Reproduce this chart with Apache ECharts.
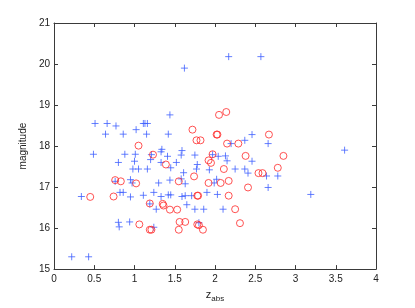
<!DOCTYPE html>
<html>
<head>
<meta charset="utf-8">
<script src="https://cdn.jsdelivr.net/npm/echarts@6/dist/echarts.min.js"></script>
<style>
html,body{margin:0;padding:0;background:#fff;}
#c{width:415px;height:308px;}
</style>
</head>
<body>
<div id="c"></div>
<script>
// Blue "+" series: [z_abs, magnitude]
var plusX = [0.22,0.43,0.34,0.49,0.51,0.66,0.64,0.77,0.86,1.02,1.11,1.13,1.16,1.15,1.44,1.42,1.62,2.17,2.57,2.46,2.37,2.20,2.66,3.61,3.19,0.80,0.88,1.01,1.00,0.98,1.05,1.16,0.76,0.95,0.97,0.82,0.86,0.95,1.11,1.30,1.34,1.33,1.21,1.20,1.33,1.41,1.45,1.44,1.42,1.45,1.33,1.24,1.27,1.19,0.80,0.81,0.94,1.24,1.59,1.58,1.52,1.61,1.58,1.63,1.59,1.63,1.65,1.71,1.75,1.78,1.77,1.75,1.86,1.80,1.97,2.04,2.13,2.15,2.46,1.93,2.25,2.37,2.41,2.02,1.99,2.64,2.78,2.66,1.90,2.03,2.10];
var plusY = [15.30,15.30,16.77,17.80,18.55,18.55,18.29,18.49,18.29,18.40,18.55,18.55,18.55,18.29,18.76,18.29,19.90,20.18,20.18,18.28,18.14,18.06,18.06,17.90,16.82,17.60,17.80,17.80,17.63,17.44,17.44,17.44,17.14,17.18,17.10,16.87,16.87,16.76,16.80,17.10,17.92,17.86,17.79,17.67,17.60,17.75,17.47,17.17,16.81,16.81,16.77,16.87,16.46,16.59,16.14,16.03,16.15,16.02,17.89,17.78,17.60,17.35,17.20,17.08,16.77,16.79,16.57,16.79,17.78,17.55,17.44,16.46,16.46,16.13,17.79,17.75,17.76,17.64,17.63,17.42,17.44,17.44,17.34,17.19,17.10,17.27,17.27,16.99,16.87,16.82,16.46];
// Red "o" series: [z_abs, magnitude]
var circX = [0.45,0.74,0.76,0.83,1.02,1.05,1.23,1.39,1.06,1.19,1.19,1.21,1.35,1.36,1.44,1.53,1.55,1.56,1.55,1.63,1.74,1.78,1.79,1.78,1.80,1.85,1.92,1.95,1.97,1.92,2.07,1.77,1.82,1.72,2.05,2.14,2.02,2.03,2.15,2.29,2.67,2.38,2.85,2.11,2.78,2.54,2.59,2.17,2.41,2.17,2.25,2.31];
var circY = [16.76,16.77,17.17,17.14,17.09,18.01,17.79,17.55,16.09,16.60,15.96,15.96,16.59,16.55,16.45,16.45,17.14,16.15,15.96,16.15,17.26,16.79,16.79,16.09,16.07,15.96,17.65,17.59,17.80,17.10,17.10,18.14,18.14,18.40,18.76,18.83,18.28,18.28,18.06,18.06,18.28,17.76,17.76,17.44,17.47,17.34,17.34,17.15,16.99,16.79,16.46,16.12];
var xTicks = [0,0.5,1,1.5,2,2.5,3,3.5,4];
var yTicks = [15,16,17,18,19,20,21];

function zip(a,b){var r=[];for(var i=0;i<a.length;i++){r.push([a[i],b[i]]);}return r;}

var chart = echarts.init(document.getElementById('c'), null, {renderer:'canvas'});
var axisCol = '#3a3a3a';
var font = 'Liberation Sans, Arial, Helvetica, sans-serif';
var tickCommon = {show:true, inside:true, length:4, lineStyle:{color:axisCol, width:1}};
chart.setOption({
  animation:false,
  backgroundColor:'#fff',
  grid:{left:54,right:39,top:23,bottom:34,containLabel:false},
  xAxis:[{
    type:'value', min:xTicks[0], max:xTicks[xTicks.length-1], interval:0.5, position:'bottom',
    axisLine:{show:true,onZero:false,lineStyle:{color:axisCol,width:1}},
    axisTick:tickCommon, splitLine:{show:false},
    axisLabel:{color:'#222',fontSize:10,fontFamily:font,margin:5,formatter:function(v){return String(v);}},
    name:'{z|z}{s|abs}', nameLocation:'middle', nameGap:14,
    nameTextStyle:{rich:{z:{fontSize:11,fontFamily:font,color:'#222'},s:{fontSize:8,fontFamily:font,color:'#222',padding:[9,0,0,0]}}}
  },{
    type:'value', min:0, max:4, interval:0.5, position:'top',
    axisLine:{show:true,onZero:false,lineStyle:{color:axisCol,width:1}},
    axisTick:tickCommon, axisLabel:{show:false}, splitLine:{show:false}
  }],
  yAxis:[{
    type:'value', min:yTicks[0], max:yTicks[yTicks.length-1], interval:1, position:'left',
    axisLine:{show:true,onZero:false,lineStyle:{color:axisCol,width:1}},
    axisTick:tickCommon, splitLine:{show:false},
    axisLabel:{color:'#222',fontSize:10,fontFamily:font,margin:4},
    name:'magnitude', nameLocation:'middle', nameGap:18,
    nameTextStyle:{fontSize:10,fontFamily:font,color:'#222'}
  },{
    type:'value', min:15, max:21, interval:1, position:'right',
    axisLine:{show:true,onZero:false,lineStyle:{color:axisCol,width:1}},
    axisTick:tickCommon, axisLabel:{show:false}, splitLine:{show:false}
  }],
  series:[{
    type:'scatter', xAxisIndex:0, yAxisIndex:0,
    data:zip(plusX,plusY),
    symbol:'path://M5,0 L5,10 M0,5 L10,5', symbolSize:7,
    itemStyle:{color:'rgba(0,0,0,0)', borderColor:'#4060ff', borderWidth:1},
    emphasis:{disabled:true}
  },{
    type:'scatter', xAxisIndex:0, yAxisIndex:0,
    data:zip(circX,circY),
    symbol:'circle', symbolSize:7,
    itemStyle:{color:'rgba(0,0,0,0)', borderColor:'#ff2828', borderWidth:1},
    emphasis:{disabled:true}
  }]
});
</script>
</body>
</html>
